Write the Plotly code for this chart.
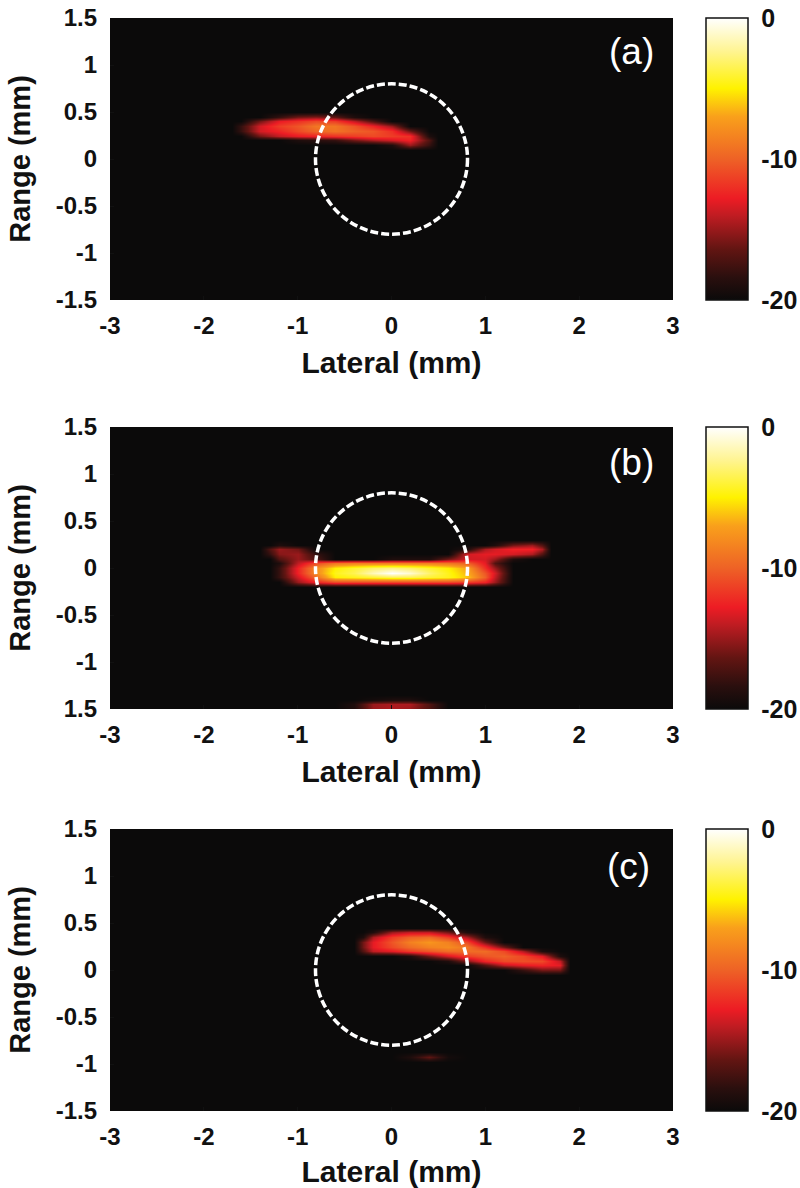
import plotly.graph_objects as go

W, H = 800, 1188
FLOOR = -20

x_ticks = [-3, -2, -1, 0, 1, 2, 3]
y_ticks = [1.5, 1, 0.5, 0, -0.5, -1, -1.5]
y_labels_std = ["1.5", "1", "0.5", "0", "-0.5", "-1", "-1.5"]
y_labels_b = ["1.5", "1", "0.5", "0", "-0.5", "-1", "1.5"]
panel_tags = ["(a)", "(b)", "(c)"]

# Panel (a): dB values by range row (ascending) and lateral column
a_lateral = [-1.6, -1.4, -1.2, -1.0, -0.8, -0.6, -0.4, -0.2, 0, 0.2, 0.4]
a_range = [0.10, 0.15, 0.20, 0.25, 0.30, 0.35, 0.40, 0.45, 0.50]
a_db = [
    [-20, -20, -20, -20, -20, -20, -20, -20, -20, -20, -20],
    [-20, -20, -20, -20, -20, -20, -20, -20, -19, -15, -18],
    [-20, -20, -20, -19, -18.5, -18, -16, -14.5, -13.5, -12.5, -17],
    [-20, -16, -14, -13, -12.5, -12, -11.5, -11, -11.5, -12, -19],
    [-18, -13.5, -12.5, -11, -9.8, -9.2, -10, -10.5, -12, -16, -20],
    [-18, -13.5, -11.5, -10.5, -9, -9, -10.5, -12.5, -15, -20, -20],
    [-20, -16, -13, -12, -11, -11.5, -14, -17, -20, -20, -20],
    [-20, -20, -18, -16, -15.5, -16.5, -19, -20, -20, -20, -20],
    [-20, -20, -20, -20, -20, -20, -20, -20, -20, -20, -20],
]

# Panel (b)
b_lateral = [-1.3, -1.2, -1.0, -0.8, -0.6, -0.4, -0.2, 0, 0.2, 0.4, 0.6, 0.8, 1.0, 1.1, 1.3, 1.5, 1.6]
b_range = [-1.5, -1.45, -1.4, -1.35, -0.2, -0.15, -0.1, -0.05, 0, 0.05, 0.1, 0.15, 0.2, 0.25, 0.3]
b_db = [
    [-20, -20, -20, -20, -20, -19, -15, -14.5, -15, -17, -20, -20, -20, -20, -20, -20, -20],
    [-20, -20, -20, -20, -20, -19, -15, -14.5, -14.5, -17, -20, -20, -20, -20, -20, -20, -20],
    [-20, -20, -20, -20, -20, -20, -19.5, -19, -19, -20, -20, -20, -20, -20, -20, -20, -20],
    [-20, -20, -20, -20, -20, -20, -20, -20, -20, -20, -20, -20, -20, -20, -20, -20, -20],
    [-20, -20, -20, -20, -20, -20, -20, -20, -20, -20, -20, -20, -20, -20, -20, -20, -20],
    [-20, -20, -15, -12.5, -11, -11, -11, -11, -11, -11, -11, -11.5, -12.5, -15, -20, -20, -20],
    [-20, -18, -13.5, -9.5, -5, -4.5, -4, -3.5, -3.5, -4, -4.5, -6, -10, -14, -20, -20, -20],
    [-20, -18, -12.5, -8, -4.5, -3.5, -1.5, 0, -1, -3, -4.5, -6.5, -10.5, -13.5, -20, -20, -20],
    [-20, -18, -12.5, -8, -5, -4, -3, -2.5, -3, -4, -5, -7, -12, -15, -20, -20, -20],
    [-20, -19, -14, -11, -9, -8.5, -8.5, -8.5, -8.5, -8.5, -9, -10, -13, -17, -20, -20, -20],
    [-20, -17, -15, -17, -20, -20, -20, -19, -19, -19, -16, -13.5, -13.5, -15, -19, -20, -20],
    [-18, -15.5, -15, -18, -20, -20, -20, -20, -20, -20, -20, -13.5, -13, -13, -13.5, -14.5, -17],
    [-17, -15, -16, -20, -20, -20, -20, -20, -20, -20, -20, -19, -14.5, -13.5, -12.5, -12.5, -14.5],
    [-20, -19, -20, -20, -20, -20, -20, -20, -20, -20, -20, -20, -20, -19, -16, -15, -17],
    [-20, -20, -20, -20, -20, -20, -20, -20, -20, -20, -20, -20, -20, -20, -20, -20, -20],
]

# Panel (c)
c_lateral = [-0.3, -0.2, 0, 0.2, 0.4, 0.6, 0.8, 1.0, 1.2, 1.4, 1.6, 1.8, 1.9]
c_range = [-0.975, -0.925, -0.875, -0.05, 0, 0.05, 0.10, 0.15, 0.20, 0.25, 0.30, 0.35, 0.40, 0.45]
c_db = [
    [-20, -20, -20, -20, -20, -20, -20, -20, -20, -20, -20, -20, -20],
    [-20, -20, -20, -19, -16.5, -19.5, -20, -20, -20, -20, -20, -20, -20],
    [-20, -20, -20, -20, -20, -20, -20, -20, -20, -20, -20, -20, -20],
    [-20, -20, -20, -20, -20, -20, -20, -20, -20, -20, -20, -20, -20],
    [-20, -20, -20, -20, -20, -20, -20, -20, -20, -18, -16, -16, -20],
    [-20, -20, -20, -20, -20, -20, -20, -17, -14, -13, -12.5, -13, -20],
    [-20, -20, -20, -20, -20, -19, -15.5, -12.5, -11, -10.8, -11, -14, -20],
    [-20, -20, -20, -19, -16, -13.5, -11.5, -10.5, -10, -11, -13, -19, -20],
    [-17, -14, -13, -11.5, -10.5, -9.5, -9.5, -9.5, -11, -14.5, -19, -20, -20],
    [-16, -13, -11, -9.5, -8.5, -8, -9, -12, -16, -20, -20, -20, -20],
    [-16, -13, -10.5, -8.5, -7.5, -8.5, -11, -16, -20, -20, -20, -20, -20],
    [-19, -14.5, -11.5, -10, -9.5, -11.5, -14.5, -19, -20, -20, -20, -20, -20],
    [-20, -19, -15, -14, -14, -16, -19, -20, -20, -20, -20, -20, -20],
    [-20, -20, -20, -20, -20, -20, -20, -20, -20, -20, -20, -20, -20],
]

cmap = [
    [0.0, "#0b0a0a"], [0.08, "#2a0f0e"], [0.18, "#621512"], [0.30, "#c01c22"],
    [0.36, "#ed1c24"], [0.50, "#ee6226"], [0.65, "#f9a01b"], [0.75, "#fff200"],
    [0.88, "#fff48f"], [1.0, "#ffffff"],
]

circle_radius = 0.81
tops = [18, 427, 829]
plot_h = 282
left, right = 110, 673
tag_pos = [(2.56, 1.14), (2.56, 1.12), (2.53, 1.10)]
font = "Liberation Sans"


def pad(lat, rng, db):
    lat2 = [-3.0, lat[0] - 0.1] + list(lat) + [lat[-1] + 0.1, 3.0]
    rng2 = list(rng)
    if rng2[0] > -1.5:
        rng2 = [-1.5] + rng2
        db = [[FLOOR] * len(lat)] + list(db)
    rng2 = rng2 + [1.5]
    db = list(db) + [[FLOOR] * len(lat)]
    z = [[FLOOR, FLOOR] + list(r) + [FLOOR, FLOOR] for r in db]
    return lat2, rng2, z


fig = go.Figure()
panels = [(a_lateral, a_range, a_db), (b_lateral, b_range, b_db), (c_lateral, c_range, c_db)]
ylabels = [y_labels_std, y_labels_b, y_labels_std]

for i, (lat, rng, db) in enumerate(panels):
    lx, ly, z = pad(lat, rng, db)
    n = "" if i == 0 else str(i + 1)
    top = tops[i]
    fig.add_trace(go.Heatmap(
        x=lx, y=ly, z=z, zmin=-20, zmax=0, colorscale=cmap, zsmooth="best",
        xaxis="x" + n, yaxis="y" + n, hoverinfo="skip",
        colorbar=dict(
            x=706 / W, xanchor="left", xpad=0, ypad=0, thickness=42, thicknessmode="pixels",
            y=1 - top / H, yanchor="top", len=plot_h / H, lenmode="fraction",
            tickvals=[0, -10, -20], ticktext=["0", "-10", "-20"],
            ticks="outside", ticklen=8, tickcolor="rgba(0,0,0,0)", outlinecolor="#111", outlinewidth=1.5,
            tickfont=dict(family=font, size=25, color="#111", weight=600),
        ),
    ))
    dom_y = [1 - (top + plot_h) / H, 1 - top / H]
    fig.update_layout({
        "xaxis" + n: dict(
            domain=[left / W, right / W], range=[-3, 3], anchor="y" + n,
            tickvals=x_ticks, ticktext=[str(v) for v in x_ticks],
            ticks="inside", ticklen=4, tickcolor="#111", showgrid=False, zeroline=False,
            showline=False, tickfont=dict(family=font, size=24, color="#111", weight=600),
            ticklabelstandoff=9,
            title=dict(text="<b>Lateral (mm)</b>", standoff=13,
                       font=dict(family=font, size=30, color="#111")),
        ),
        "yaxis" + n: dict(
            domain=dom_y, range=[-1.5, 1.5], anchor="x" + n,
            tickvals=y_ticks, ticktext=ylabels[i],
            ticks="inside", ticklen=4, tickcolor="#111", showgrid=False, zeroline=False,
            showline=False, tickfont=dict(family=font, size=24, color="#111", weight=600),
            ticklabelstandoff=12,
            title=dict(text="<b>Range (mm)</b>", standoff=16,
                       font=dict(family=font, size=29, color="#111")),
        ),
    })
    fig.add_shape(type="circle", xref="x" + n, yref="y" + n,
                  x0=-circle_radius, x1=circle_radius, y0=-circle_radius + 0.01, y1=circle_radius - 0.01,
                  line=dict(color="white", width=3.5, dash="8px,3px"))
    for bar_x0, bar_x1 in [(706, 710), (744, 748)]:
        fig.add_shape(type="line", xref="paper", yref="y" + n, x0=bar_x0 / W, x1=bar_x1 / W, y0=0, y1=0,
                      line=dict(color="#222", width=1))
    fig.add_annotation(x=tag_pos[i][0], y=tag_pos[i][1], xref="x" + n, yref="y" + n,
                       text=panel_tags[i], showarrow=False,
                       font=dict(family=font, size=37, color="white"))

fig.update_layout(
    width=W, height=H, margin=dict(l=0, r=0, t=0, b=0, autoexpand=False), autosize=False,
    paper_bgcolor="white", plot_bgcolor="#0b0a0a", showlegend=False,
)
fig.write_html("out.html", post_script="document.body.style.margin='0';", config={"displayModeBar": False})
